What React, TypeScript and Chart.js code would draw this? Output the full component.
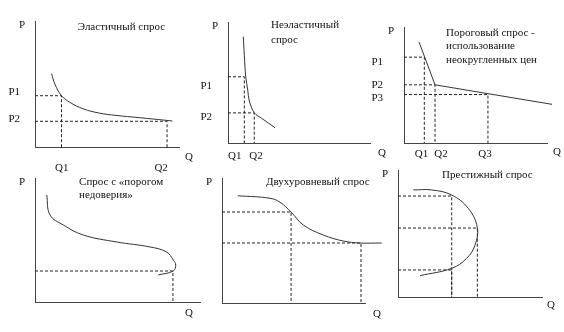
import React, { useEffect, useRef } from 'react';
import { Chart, registerables } from 'chart.js';

Chart.register(...registerables);

// ---------- DATA (abstract units: Q 0..100 along the axis, P 0..100 up the axis) ----------

// Panel 1: Эластичный спрос
const elasticTitle = ['Эластичный спрос'];
const elasticCurveQ = [11.5, 13.8, 18.4, 24.1, 33.3, 44.8, 56.3, 72.4, 90.8, 95.4];
const elasticCurveP = [58.5, 50.2, 40.9, 35.7, 30.5, 27.0, 25.2, 23.4, 21.3, 20.7];
const elasticGuideQ = [18.4, 91.7];
const elasticGuideP = [40.9, 20.5];
const elasticPTickValues = [44, 22];
const elasticPTickLabels = ['P1', 'P2'];
const elasticQTickValues = [18.6, 87.6];
const elasticQTickLabels = ['Q1', 'Q2'];

// Panel 2: Неэластичный спрос
const inelasticTitle = ['Неэластичный', 'спрос'];
const inelasticCurveQ = [10.8, 11.5, 12.5, 13.9, 15.0, 18.5, 23.7, 33.1];
const inelasticCurveP = [88.3, 72.7, 54.9, 44.0, 34.9, 25.0, 20.5, 12.7];
const inelasticGuideQ = [11.5, 18.5];
const inelasticGuideP = [55, 25];
const inelasticPTickValues = [46.9, 21.9];
const inelasticPTickLabels = ['P1', 'P2'];
const inelasticQTickValues = [4.7, 19.7];
const inelasticQTickLabels = ['Q1', 'Q2'];

// Panel 3: Пороговый спрос
const thresholdTitle = ['Пороговый спрос -', 'использование', 'неокругленных цен'];
const thresholdCurveQ = [10.5, 21.7, 103.5];
const thresholdCurveP = [87.6, 50.4, 33.5];
const thresholdGuideQ = [14.2, 21.7, 58.7];
const thresholdGuideP = [74.4, 50.4, 42];
const thresholdPTickValues = [70.5, 50.4, 38.8];
const thresholdPTickLabels = ['P1', 'P2', 'P3'];
const thresholdQTickValues = [12.2, 25.9, 56.6];
const thresholdQTickLabels = ['Q1', 'Q2', 'Q3'];

// Panel 4: Спрос с «порогом недоверия»
const distrustTitle = ['Спрос с «порогом', 'недоверия»'];
const distrustCurveQ = [7.1, 9.1, 17.2, 29.3, 49.5, 69.7, 79.8, 83.8, 85.3, 83.8, 74.7];
const distrustCurveP = [86.3, 70.2, 62.1, 54.0, 48.4, 44.4, 40.3, 33.9, 29.8, 25.0, 21.8];
const distrustGuideQ = [83.6];
const distrustGuideP = [25];

// Panel 5: Двухуровневый спрос
const twoLevelTitle = ['Двухуровневый спрос'];
const twoLevelCurveQ = [11.0, 33.6, 40.6, 48.3, 56.9, 70.8, 84.8, 96.5, 111.7];
const twoLevelCurveP = [85.8, 83.8, 80.6, 72.8, 62.4, 54.4, 49.6, 48, 48];
const twoLevelGuideQ = [48.3, 97.2];
const twoLevelGuideP = [72.8, 48];

// Panel 6: Престижный спрос
const prestigeTitle = ['Престижный спрос'];
const prestigeCurveQ = [10.6, 23.4, 37.3, 48.8, 55.1, 53.5, 47.7, 37.3, 15.3];
const prestigeCurveP = [84.3, 84.3, 80.3, 69.8, 54.6, 40.9, 30.5, 22.6, 16.8];
const prestigeGuideQ = [37.3, 55.1, 37.3];
const prestigeGuideP = [79.5, 54.3, 21.3];

// ---------- LAYOUT / STYLE ----------
const W = 564;
const H = 332;
const FONT_FAMILY = "'Liberation Serif', 'Times New Roman', serif";
const FONT_SIZE = 11;
const TEXT_COLOR = '#111';
const AXIS_COLOR = '#444';
const CURVE_COLOR = '#333';
const GUIDE_COLOR = '#222';

type Frame = { left: number; top: number; right: number; bottom: number };

type PanelSpec = {
  frame: Frame;
  title: string[];
  titleAt: [number, number];
  titleLineHeight: number;
  curveQ: number[];
  curveP: number[];
  tension: number;
  guideQ: number[];
  guideP: number[];
  pTickValues: number[];
  pTickLabels: string[];
  qTickValues: number[];
  qTickLabels: string[];
  pPad: number;
  qPad: number;
  qLabelOffset: [number, number];
};

const panels: PanelSpec[] = [
  {
    frame: { left: 35, top: 20, right: 179, bottom: 147 },
    title: elasticTitle, titleAt: [29.7, 96], titleLineHeight: 13,
    curveQ: elasticCurveQ, curveP: elasticCurveP, tension: 0.4,
    guideQ: elasticGuideQ, guideP: elasticGuideP,
    pTickValues: elasticPTickValues, pTickLabels: elasticPTickLabels,
    qTickValues: elasticQTickValues, qTickLabels: elasticQTickLabels,
    pPad: 15, qPad: 15, qLabelOffset: [10, 10],
  },
  {
    frame: { left: 228, top: 15, right: 370, bottom: 143 },
    title: inelasticTitle, titleAt: [30.3, 97.7], titleLineHeight: 15,
    curveQ: inelasticCurveQ, curveP: inelasticCurveP, tension: 0.3,
    guideQ: inelasticGuideQ, guideP: inelasticGuideP,
    pTickValues: inelasticPTickValues, pTickLabels: inelasticPTickLabels,
    qTickValues: inelasticQTickValues, qTickLabels: inelasticQTickLabels,
    pPad: 16, qPad: 7, qLabelOffset: [12, 10],
  },
  {
    frame: { left: 404, top: 14, right: 547, bottom: 143 },
    title: thresholdTitle, titleAt: [29.4, 95.3], titleLineHeight: 13.5,
    curveQ: thresholdCurveQ, curveP: thresholdCurveP, tension: 0,
    guideQ: thresholdGuideQ, guideP: thresholdGuideP,
    pTickValues: thresholdPTickValues, pTickLabels: thresholdPTickLabels,
    qTickValues: thresholdQTickValues, qTickLabels: thresholdQTickLabels,
    pPad: 21, qPad: 5, qLabelOffset: [10, 9],
  },
  {
    frame: { left: 35, top: 178, right: 200, bottom: 302 },
    title: distrustTitle, titleAt: [26.7, 96.8], titleLineHeight: 12.7,
    curveQ: distrustCurveQ, curveP: distrustCurveP, tension: 0.4,
    guideQ: distrustGuideQ, guideP: distrustGuideP,
    pTickValues: [], pTickLabels: [], qTickValues: [], qTickLabels: [],
    pPad: 15, qPad: 10, qLabelOffset: [-11, 11],
  },
  {
    frame: { left: 222, top: 178, right: 365, bottom: 303 },
    title: twoLevelTitle, titleAt: [30.8, 96.8], titleLineHeight: 13,
    curveQ: twoLevelCurveQ, curveP: twoLevelCurveP, tension: 0.4,
    guideQ: twoLevelGuideQ, guideP: twoLevelGuideP,
    pTickValues: [], pTickLabels: [], qTickValues: [], qTickLabels: [],
    pPad: 15, qPad: 10, qLabelOffset: [12, 11],
  },
  {
    frame: { left: 398, top: 170, right: 542, bottom: 297 },
    title: prestigeTitle, titleAt: [30.6, 96.1], titleLineHeight: 13,
    curveQ: prestigeCurveQ, curveP: prestigeCurveP, tension: 0.4,
    guideQ: prestigeGuideQ, guideP: prestigeGuideP,
    pTickValues: [], pTickLabels: [], qTickValues: [], qTickLabels: [],
    pPad: 15, qPad: 10, qLabelOffset: [9, 8],
  },
];

// scale boxes must be large enough to hold their labels (Chart.js clips labels to them)
const Y_SCALE_W = 35;
const X_SCALE_H = 28;

const font = { family: FONT_FAMILY, size: FONT_SIZE };

function buildChart(canvas: HTMLCanvasElement, spec: PanelSpec) {
  const f = spec.frame;
  const curve = spec.curveQ.map((q, i) => ({ x: q, y: spec.curveP[i] }));
  const guides = spec.guideQ.map((q, i) => {
    const p = spec.guideP[i];
    return {
      data: [{ x: 0, y: p }, { x: q, y: p }, { x: q, y: 0 }],
      borderColor: GUIDE_COLOR,
      borderWidth: 1,
      borderDash: [3, 2],
      pointRadius: 0,
      tension: 0,
      fill: false,
      clip: false as any,
    };
  });

  const textPlugin = {
    id: 'panelText',
    afterDraw(chart: any) {
      const ctx = chart.ctx as CanvasRenderingContext2D;
      const ca = chart.chartArea;
      const xs = chart.scales.x;
      const ys = chart.scales.y;
      ctx.save();
      ctx.fillStyle = TEXT_COLOR;
      ctx.font = `${FONT_SIZE}px ${FONT_FAMILY}`;
      ctx.textBaseline = 'middle';
      ctx.textAlign = 'left';
      const tx = xs.getPixelForValue(spec.titleAt[0]);
      const ty = ys.getPixelForValue(spec.titleAt[1]);
      spec.title.forEach((line, i) => {
        ctx.fillText(line, tx, ty + i * spec.titleLineHeight);
      });
      ctx.textAlign = 'center';
      ctx.fillText('P', ca.left - 13, ca.top + 4);
      ctx.fillText('Q', ca.right + spec.qLabelOffset[0], ca.bottom + spec.qLabelOffset[1]);
      ctx.restore();
    },
  };

  return new Chart(canvas, {
    type: 'line',
    data: {
      datasets: [
        {
          data: curve,
          borderColor: CURVE_COLOR,
          borderWidth: 1,
          pointRadius: 0,
          tension: spec.tension,
          fill: false,
          clip: false as any,
        },
        ...guides,
      ],
    },
    options: {
      animation: false,
      responsive: false,
      events: [],
      layout: {
        padding: {
          left: Math.max(0, f.left - Y_SCALE_W),
          top: f.top,
          right: W - f.right,
          bottom: Math.max(0, H - f.bottom - X_SCALE_H),
        },
      },
      plugins: {
        legend: { display: false },
        tooltip: { enabled: false },
        title: { display: false },
      },
      scales: {
        x: {
          type: 'linear',
          min: 0,
          max: 100,
          grid: { display: false, drawTicks: false },
          border: { display: true, color: AXIS_COLOR, width: 1 },
          afterFit: (s: any) => { s.height = Math.min(X_SCALE_H, H - f.bottom); },
          afterBuildTicks: (s: any) => { s.ticks = spec.qTickValues.map((v) => ({ value: v })); },
          ticks: {
            display: spec.qTickValues.length > 0,
            autoSkip: false,
            maxRotation: 0,
            minRotation: 0,
            padding: spec.qPad,
            color: TEXT_COLOR,
            font,
            callback: (_v: any, i: number) => spec.qTickLabels[i],
          },
        },
        y: {
          type: 'linear',
          min: 0,
          max: 100,
          grid: { display: false, drawTicks: false },
          border: { display: true, color: AXIS_COLOR, width: 1 },
          afterFit: (s: any) => { s.width = Math.min(Y_SCALE_W, f.left); },
          afterBuildTicks: (s: any) => { s.ticks = spec.pTickValues.map((v) => ({ value: v })); },
          ticks: {
            display: spec.pTickValues.length > 0,
            autoSkip: false,
            padding: spec.pPad,
            color: TEXT_COLOR,
            font,
            callback: (_v: any, i: number) => spec.pTickLabels[i],
          },
        },
      },
    } as any,
    plugins: [textPlugin],
  });
}

function Panel({ spec }: { spec: PanelSpec }) {
  const ref = useRef<HTMLCanvasElement | null>(null);
  useEffect(() => {
    if (!ref.current) return;
    const chart = buildChart(ref.current, spec);
    return () => chart.destroy();
  }, [spec]);
  return (
    <canvas
      ref={ref}
      width={W}
      height={H}
      style={{ position: 'absolute', left: 0, top: 0, width: W, height: H }}
    />
  );
}

export default function App() {
  return (
    <div
      style={{
        position: 'fixed',
        left: 0,
        top: 0,
        width: W,
        height: H,
        background: '#fff',
        overflow: 'hidden',
      }}
    >
      {panels.map((p, i) => (
        <Panel key={i} spec={p} />
      ))}
    </div>
  );
}
